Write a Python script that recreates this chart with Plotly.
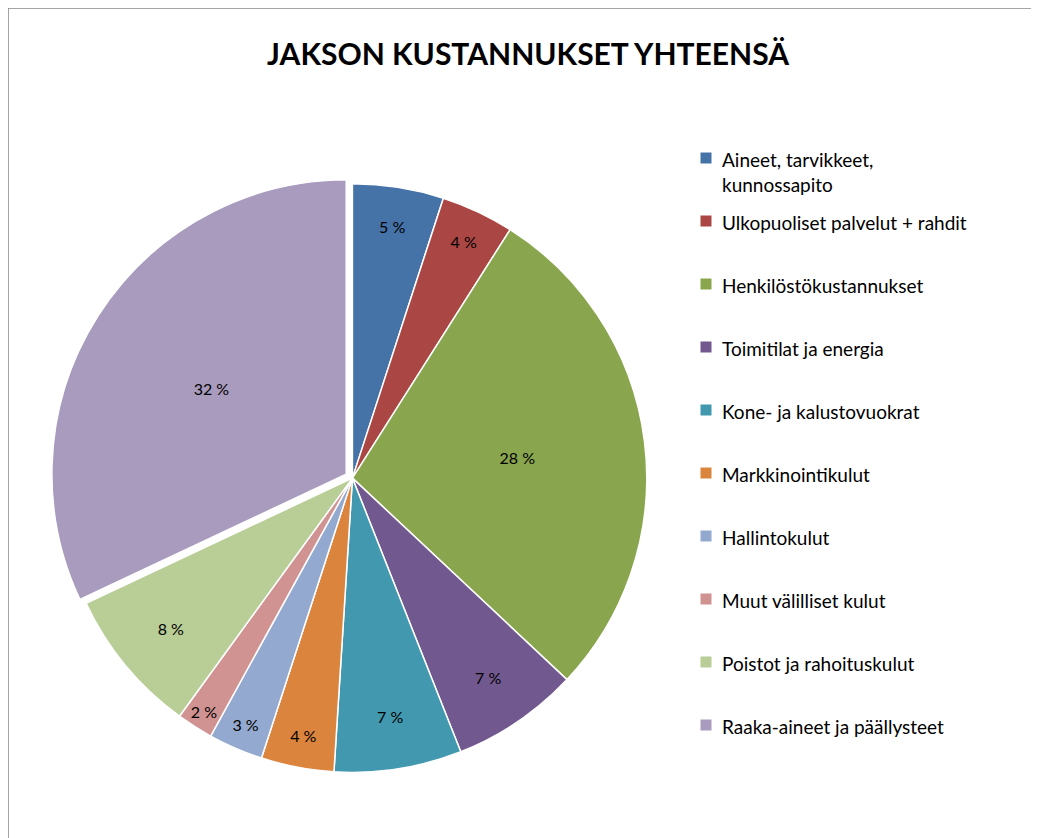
import plotly.graph_objects as go

labels = ["Aineet, tarvikkeet, kunnossapito", "Ulkopuoliset palvelut + rahdit",
          "Henkilöstökustannukset", "Toimitilat ja energia", "Kone- ja kalustovuokrat",
          "Markkinointikulut", "Hallintokulut", "Muut välilliset kulut",
          "Poistot ja rahoituskulut", "Raaka-aineet ja päällysteet"]
legend_text = ["Aineet, tarvikkeet,<br>kunnossapito", "Ulkopuoliset palvelut + rahdit",
               "Henkilöstökustannukset", "Toimitilat ja energia", "Kone- ja kalustovuokrat",
               "Markkinointikulut", "Hallintokulut", "Muut välilliset kulut",
               "Poistot ja rahoituskulut", "Raaka-aineet ja päällysteet"]
values = [5, 4, 28, 7, 7, 4, 3, 2, 8, 32]
colors = ["#4572A7", "#AA4643", "#89A54E", "#71588F", "#4198AF",
          "#DB843D", "#93A9CF", "#D19392", "#B9CD96", "#A99BBD"]
pulls = [0, 0, 0, 0, 0, 0, 0, 0, 0, 0.025]

W, H = 1039, 838
fig = go.Figure(go.Pie(
    labels=labels, values=values, sort=False, direction="clockwise", rotation=0,
    marker=dict(colors=colors, line=dict(color="white", width=1.5)),
    pull=pulls, texttemplate="%{value} %", textposition="inside",
    insidetextorientation="horizontal",
    textfont=dict(size=16, color="black", family="Lato"),
    domain=dict(x=[0.041, 0.622], y=[0.079, 0.799]),
    showlegend=False, hoverinfo="label+value",
))

shapes = [dict(type="rect", xref="paper", yref="paper", x0=0, y0=0, x1=1, y1=1,
               line=dict(color="#868686", width=1.5))]
annotations = [dict(text="<b>JAKSON KUSTANNUKSET YHTEENSÄ</b>", x=520 / W, y=1 - 45 / H,
                    xref="paper", yref="paper", showarrow=False, yanchor="middle",
                    font=dict(size=30, family="Lato", color="black"))]
for i, (t, c) in enumerate(zip(legend_text, colors)):
    yc = 150 + 63 * i
    s = 5.5
    shapes.append(dict(type="rect", xref="paper", yref="paper",
                       x0=(698 - s) / W, x1=(698 + s) / W,
                       y0=1 - (yc + s) / H, y1=1 - (yc - s) / H,
                       fillcolor=c, line=dict(width=0)))
    annotations.append(dict(text=t, x=712 / W, y=1 - (yc - 12) / H, xref="paper", yref="paper",
                            xanchor="left", yanchor="top", align="left", showarrow=False,
                            font=dict(size=19, family="Lato", color="black")))

fig.update_layout(width=W, height=H, margin=dict(l=0, r=0, t=0, b=0),
                  paper_bgcolor="white", shapes=shapes, annotations=annotations)
fig.write_html("out.html")
